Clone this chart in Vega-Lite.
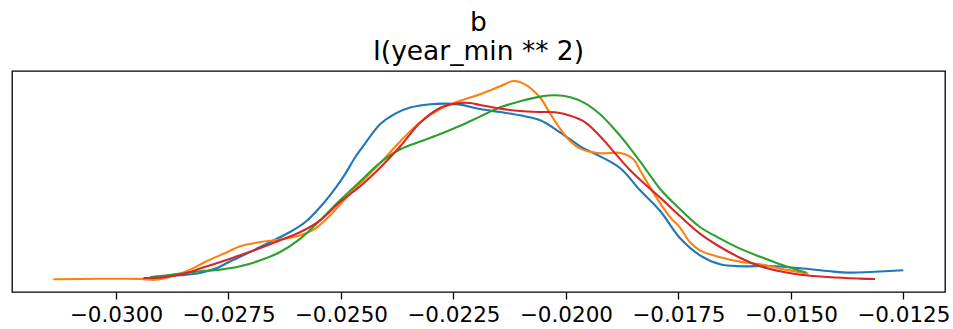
{
  "$schema": "https://vega.github.io/schema/vega-lite/v6.json",
  "width": 933,
  "height": 221,
  "autosize": "none",
  "padding": {"left": 12, "top": 71, "right": 8, "bottom": 37},
  "background": "white",
  "config": {
    "view": {"stroke": "#000000", "strokeWidth": 1.3},
    "font": "DejaVu Sans"
  },
  "title": {
    "text": ["b", "I(year_min ** 2)"],
    "font": "DejaVu Sans",
    "fontSize": 26.5,
    "fontWeight": "normal",
    "color": "#000000",
    "anchor": "middle",
    "lineHeight": 29,
    "offset": 6
  },
  "datasets": {
    "kde": [
      {"chain":"0","x":-0.02924,"y":2.3},{"chain":"0","x":-0.02857,"y":4},{"chain":"0","x":-0.02813,"y":6.3},{"chain":"0","x":-0.02779,"y":10.7},{"chain":"0","x":-0.02746,"y":18},{"chain":"0","x":-0.02702,"y":27.3},{"chain":"0","x":-0.02657,"y":37.3},{"chain":"0","x":-0.02613,"y":47.3},{"chain":"0","x":-0.02579,"y":57.3},{"chain":"0","x":-0.02546,"y":72.3},{"chain":"0","x":-0.02513,"y":90.7},{"chain":"0","x":-0.0249,"y":105.7},{"chain":"0","x":-0.02468,"y":122.3},{"chain":"0","x":-0.02446,"y":136},{"chain":"0","x":-0.02413,"y":155},{"chain":"0","x":-0.02379,"y":165.7},{"chain":"0","x":-0.02346,"y":171.7},{"chain":"0","x":-0.02302,"y":175},{"chain":"0","x":-0.02268,"y":175.7},{"chain":"0","x":-0.02235,"y":174.7},{"chain":"0","x":-0.02191,"y":170.3},{"chain":"0","x":-0.02146,"y":167.3},{"chain":"0","x":-0.02102,"y":164},{"chain":"0","x":-0.02057,"y":159},{"chain":"0","x":-0.02013,"y":147},{"chain":"0","x":-0.01968,"y":133},{"chain":"0","x":-0.01924,"y":123},{"chain":"0","x":-0.01879,"y":111},{"chain":"0","x":-0.01835,"y":89},{"chain":"0","x":-0.0179,"y":68},{"chain":"0","x":-0.01746,"y":41},{"chain":"0","x":-0.01702,"y":24},{"chain":"0","x":-0.01657,"y":15},{"chain":"0","x":-0.01613,"y":13},{"chain":"0","x":-0.01546,"y":13.3},{"chain":"0","x":-0.01479,"y":11},{"chain":"0","x":-0.01412,"y":8},{"chain":"0","x":-0.01368,"y":6.7},{"chain":"0","x":-0.01324,"y":7.3},{"chain":"0","x":-0.0125,"y":9},
      {"chain":"1","x":-0.03139,"y":0},{"chain":"1","x":-0.03035,"y":0.5},{"chain":"1","x":-0.02946,"y":0.4},{"chain":"1","x":-0.02913,"y":-0.5},{"chain":"1","x":-0.02879,"y":2.5},{"chain":"1","x":-0.02835,"y":9.7},{"chain":"1","x":-0.02802,"y":17.3},{"chain":"1","x":-0.02757,"y":26.3},{"chain":"1","x":-0.02724,"y":33},{"chain":"1","x":-0.02679,"y":37.3},{"chain":"1","x":-0.02635,"y":39.7},{"chain":"1","x":-0.0259,"y":44},{"chain":"1","x":-0.02557,"y":50.7},{"chain":"1","x":-0.02524,"y":64},{"chain":"1","x":-0.0249,"y":80.7},{"chain":"1","x":-0.02457,"y":96},{"chain":"1","x":-0.02413,"y":116},{"chain":"1","x":-0.02368,"y":138},{"chain":"1","x":-0.02324,"y":157},{"chain":"1","x":-0.02279,"y":170.5},{"chain":"1","x":-0.02235,"y":178.5},{"chain":"1","x":-0.02191,"y":185},{"chain":"1","x":-0.02146,"y":193},{"chain":"1","x":-0.02117,"y":198.3},{"chain":"1","x":-0.02091,"y":195},{"chain":"1","x":-0.02057,"y":181.5},{"chain":"1","x":-0.02035,"y":165.7},{"chain":"1","x":-0.02013,"y":150.7},{"chain":"1","x":-0.0199,"y":138},{"chain":"1","x":-0.01968,"y":130.7},{"chain":"1","x":-0.01924,"y":126},{"chain":"1","x":-0.01879,"y":126.3},{"chain":"1","x":-0.0185,"y":120},{"chain":"1","x":-0.01835,"y":109},{"chain":"1","x":-0.01813,"y":92.3},{"chain":"1","x":-0.0179,"y":75.7},{"chain":"1","x":-0.01768,"y":62},{"chain":"1","x":-0.01746,"y":51.5},{"chain":"1","x":-0.01724,"y":37},{"chain":"1","x":-0.01702,"y":29},{"chain":"1","x":-0.01657,"y":22},{"chain":"1","x":-0.01613,"y":17.7},{"chain":"1","x":-0.01568,"y":15},{"chain":"1","x":-0.01524,"y":10.7},{"chain":"1","x":-0.01461,"y":5.7},
      {"chain":"2","x":-0.02924,"y":2},{"chain":"2","x":-0.02857,"y":5.7},{"chain":"2","x":-0.02813,"y":8},{"chain":"2","x":-0.02768,"y":9.7},{"chain":"2","x":-0.02724,"y":13},{"chain":"2","x":-0.02679,"y":19},{"chain":"2","x":-0.02635,"y":27.3},{"chain":"2","x":-0.0259,"y":40.7},{"chain":"2","x":-0.02546,"y":59},{"chain":"2","x":-0.02502,"y":79},{"chain":"2","x":-0.02457,"y":98},{"chain":"2","x":-0.02413,"y":116.5},{"chain":"2","x":-0.02368,"y":130},{"chain":"2","x":-0.02324,"y":137.8},{"chain":"2","x":-0.02279,"y":145.3},{"chain":"2","x":-0.02235,"y":153.5},{"chain":"2","x":-0.02191,"y":162.7},{"chain":"2","x":-0.02146,"y":172},{"chain":"2","x":-0.02102,"y":178},{"chain":"2","x":-0.02057,"y":182.7},{"chain":"2","x":-0.02024,"y":184},{"chain":"2","x":-0.0199,"y":182},{"chain":"2","x":-0.01957,"y":176},{"chain":"2","x":-0.01924,"y":165},{"chain":"2","x":-0.0189,"y":149},{"chain":"2","x":-0.01857,"y":131},{"chain":"2","x":-0.01824,"y":111},{"chain":"2","x":-0.0179,"y":90},{"chain":"2","x":-0.01746,"y":70},{"chain":"2","x":-0.01702,"y":52.3},{"chain":"2","x":-0.01657,"y":40.7},{"chain":"2","x":-0.01613,"y":30.7},{"chain":"2","x":-0.01568,"y":22.5},{"chain":"2","x":-0.01524,"y":15},{"chain":"2","x":-0.01479,"y":8.5},{"chain":"2","x":-0.01466,"y":6.7},
      {"chain":"3","x":-0.02939,"y":1.3},{"chain":"3","x":-0.02902,"y":1.7},{"chain":"3","x":-0.02857,"y":4.7},{"chain":"3","x":-0.02813,"y":10.7},{"chain":"3","x":-0.02768,"y":17.3},{"chain":"3","x":-0.02724,"y":24},{"chain":"3","x":-0.02679,"y":31.3},{"chain":"3","x":-0.02635,"y":39},{"chain":"3","x":-0.0259,"y":47.3},{"chain":"3","x":-0.02546,"y":59},{"chain":"3","x":-0.02502,"y":77.3},{"chain":"3","x":-0.02457,"y":93},{"chain":"3","x":-0.02413,"y":111.5},{"chain":"3","x":-0.02368,"y":133},{"chain":"3","x":-0.02324,"y":156.5},{"chain":"3","x":-0.02279,"y":171.5},{"chain":"3","x":-0.02246,"y":175.7},{"chain":"3","x":-0.02213,"y":176.3},{"chain":"3","x":-0.02191,"y":174.3},{"chain":"3","x":-0.02146,"y":170.7},{"chain":"3","x":-0.02102,"y":168.3},{"chain":"3","x":-0.02057,"y":167.3},{"chain":"3","x":-0.02024,"y":167},{"chain":"3","x":-0.0199,"y":163.5},{"chain":"3","x":-0.01957,"y":157},{"chain":"3","x":-0.01924,"y":143},{"chain":"3","x":-0.0189,"y":125.7},{"chain":"3","x":-0.01857,"y":109},{"chain":"3","x":-0.01824,"y":95},{"chain":"3","x":-0.0179,"y":81.5},{"chain":"3","x":-0.01746,"y":63},{"chain":"3","x":-0.01702,"y":45.7},{"chain":"3","x":-0.01657,"y":32.3},{"chain":"3","x":-0.01613,"y":21.5},{"chain":"3","x":-0.01568,"y":13},{"chain":"3","x":-0.01524,"y":8},{"chain":"3","x":-0.01479,"y":4.5},{"chain":"3","x":-0.01412,"y":2},{"chain":"3","x":-0.01346,"y":0.7},{"chain":"3","x":-0.01313,"y":0.3}
    ]
  },
  "data": {"name": "kde"},
  "mark": {"type": "line", "strokeWidth": 2.1, "interpolate": "catmull-rom", "clip": true},
  "encoding": {
    "x": {
      "field": "x",
      "type": "quantitative",
      "scale": {"domain": [-0.032311, -0.011573], "nice": false, "zero": false},
      "axis": {
        "values": [-0.03, -0.0275, -0.025, -0.0225, -0.02, -0.0175, -0.015, -0.0125],
        "format": ".4f",
        "title": null,
        "grid": false,
        "domain": false,
        "ticks": true,
        "tickColor": "#000000",
        "tickWidth": 1.3,
        "tickSize": 7,
        "labelFont": "DejaVu Sans",
        "labelFontSize": 21.5,
        "labelColor": "#000000",
        "labelPadding": 5,
        "labelFlush": false,
        "labelOverlap": false
      }
    },
    "y": {
      "field": "y",
      "type": "quantitative",
      "scale": {"domain": [-12.7, 208.3], "nice": false, "zero": false},
      "axis": null
    },
    "color": {
      "field": "chain",
      "type": "nominal",
      "scale": {"domain": ["0", "1", "2", "3"], "range": ["#1f77b4", "#ff7f0e", "#2ca02c", "#d62728"]},
      "legend": null
    }
  }
}
